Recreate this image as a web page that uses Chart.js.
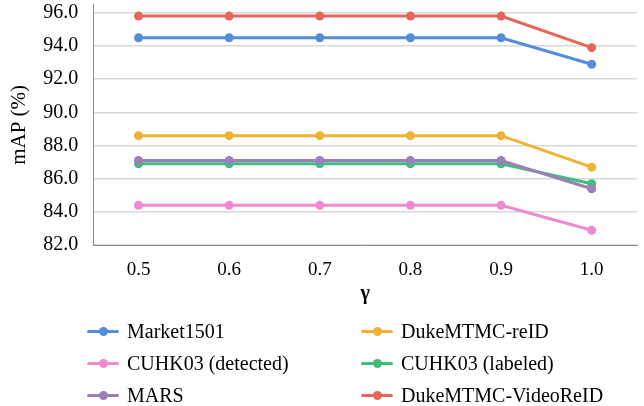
<!DOCTYPE html>
<html>
<head>
<meta charset="utf-8">
<script src="https://cdn.jsdelivr.net/npm/chart.js@4"></script>
<style>
  html, body { margin:0; padding:0; background:#fff; }
  #wrap { position:relative; width:644px; height:406px; }
  #c { position:absolute; left:0; top:0; }
  .li { position:absolute; font-family:"Liberation Serif", serif; font-size:20px; color:#000; white-space:nowrap; line-height:20px; }
  .mk { position:absolute; width:32px; height:3px; border-radius:1.5px; }
  .dot { position:absolute; width:9px; height:9px; border-radius:50%; left:11.5px; top:-3px; }
</style>
</head>
<body>
<div id="wrap">
  <canvas id="c" width="644" height="406"></canvas>
  <div id="legend"></div>
</div>
<script>
const categories = ['0.5', '0.6', '0.7', '0.8', '0.9', '1.0'];
const seriesNames = ['Market1501', 'DukeMTMC-reID', 'CUHK03 (detected)', 'CUHK03 (labeled)', 'MARS', 'DukeMTMC-VideoReID'];
const market1501 = [94.5, 94.5, 94.5, 94.5, 94.5, 92.9];
const dukeReID = [88.6, 88.6, 88.6, 88.6, 88.6, 86.7];
const cuhkDetected = [84.4, 84.4, 84.4, 84.4, 84.4, 82.9];
const cuhkLabeled = [86.9, 86.9, 86.9, 86.9, 86.9, 85.7];
const mars = [87.1, 87.1, 87.1, 87.1, 87.1, 85.4];
const dukeVideo = [95.8, 95.8, 95.8, 95.8, 95.8, 93.9];
const yTicks = [82, 84, 86, 88, 90, 92, 94, 96];
const colors = ['#558ddb', '#efb232', '#ef8ad0', '#3ebd7b', '#9a80ba', '#e7665b'];

const seriesValues = [market1501, dukeReID, cuhkDetected, cuhkLabeled, mars, dukeVideo];
const datasets = seriesValues.map((vals, i) => ({
  label: seriesNames[i],
  data: vals,
  borderColor: colors[i],
  backgroundColor: colors[i],
  borderWidth: 3,
  pointRadius: 4.5,
  pointHoverRadius: 4.5,
  pointBorderWidth: 0,
  tension: 0,
  order: 6 - i
}));

const FONT = '"Liberation Serif", serif';

new Chart(document.getElementById('c'), {
  type: 'line',
  data: { labels: categories, datasets },
  options: {
    responsive: false,
    animation: false,
    devicePixelRatio: 1,
    layout: { padding: { top: 4, right: 7, bottom: 100, left: 7 } },
    plugins: { legend: { display: false }, tooltip: { enabled: false } },
    scales: {
      x: {
        offset: true,
        grid: { display: true, color: 'rgba(0,0,0,0)', drawTicks: false },
        border: { display: true, color: '#8c8c8c', width: 1 },
        ticks: { color: '#000', font: { family: FONT, size: 19 }, padding: 13 },
        title: { display: true, text: 'γ', color: '#000', font: { family: FONT, size: 20, weight: 'bold' }, padding: { top: -12, bottom: 0 } }
      },
      y: {
        min: 82,
        max: 96.5,
        afterBuildTicks: (axis) => { axis.ticks = yTicks.map(v => ({ value: v })); },
        afterFit: (axis) => { axis.paddingTop = 0; axis.paddingBottom = 0; },
        grid: { color: '#d9d9d9', lineWidth: 1.5, drawTicks: false },
        border: { display: true, color: '#8c8c8c', width: 1 },
        ticks: { color: '#000', font: { family: FONT, size: 20 }, padding: 15, callback: (v) => Number(v).toFixed(1) },
        title: { display: true, text: 'mAP (%)', color: '#000', font: { family: FONT, size: 21 }, padding: { top: 0, bottom: -4 } }
      }
    }
  }
});

const legend = document.getElementById('legend');
const colX = [87, 361];
const rowY = [331, 363, 395];
seriesNames.forEach((name, i) => {
  const col = i % 2, row = Math.floor(i / 2);
  const mk = document.createElement('div');
  mk.className = 'mk';
  mk.style.left = colX[col] + 'px';
  mk.style.top = (rowY[row] - 1.5) + 'px';
  mk.style.background = colors[i];
  const dot = document.createElement('div');
  dot.className = 'dot';
  dot.style.background = colors[i];
  mk.appendChild(dot);
  legend.appendChild(mk);
  const t = document.createElement('div');
  t.className = 'li';
  t.textContent = name;
  t.style.left = (colX[col] + 40) + 'px';
  t.style.top = (rowY[row] - 10) + 'px';
  legend.appendChild(t);
});
</script>
</body>
</html>
